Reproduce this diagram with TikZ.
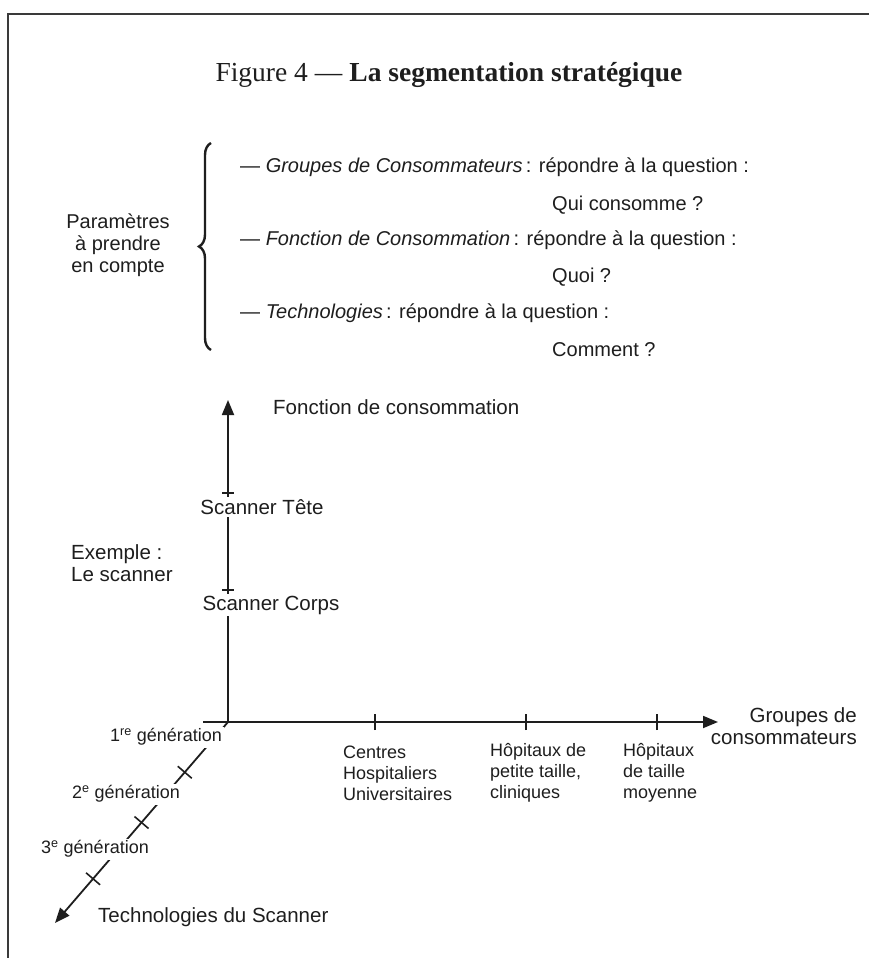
\documentclass[tikz,border=0pt]{standalone}
\usepackage{fontspec}
\setmainfont{Liberation Sans}
\newfontfamily\titlefont{Liberation Serif}
\usetikzlibrary{arrows.meta,decorations.pathreplacing,calc}
\definecolor{ink}{HTML}{1E1E1E}
\definecolor{frameink}{HTML}{3A3A3A}
\tikzset{
  axisline/.style={draw=ink,line width=1.8pt},
  axisarrow/.style={axisline,-{Triangle[length=15pt,width=12pt]}},
  tickmark/.style={draw=ink,line width=1.6pt},
  biglabel/.style={text=ink,font=\fontsize{20.5}{22}\selectfont,inner sep=1pt},
  smalllabel/.style={text=ink,font=\fontsize{18}{21}\selectfont,inner sep=1pt},
  listline/.style={text=ink,font=\fontsize{20}{22}\selectfont,anchor=west,inner sep=0pt},
  gap/.style={fill=white,inner sep=2pt},
}
\begin{document}
\begin{tikzpicture}[x=1pt,y=-1pt]
\useasboundingbox (0,0) rectangle (869,958);
\fill[white] (0,0) rectangle (869,958);

% frame
\draw[frameink,line width=2.6pt] (8,958) -- (8,14) -- (869,14);

% title
\node[text=ink,font=\titlefont\fontsize{27.5}{30}\selectfont] (title) at (449,75)
  {Figure 4 — \textbf{La segmentation stratégique}};

% parameters and brace
\node[text=ink,font=\fontsize{20}{22}\selectfont,align=center] (param) at (118,245)
  {Paramètres\\à prendre\\en compte};
\draw[ink,line width=2.4pt,decorate,decoration={brace,amplitude=12pt,aspect=0.5}]
  (211,350) -- (211,143);

\node[listline] (g1) at (240,167) {— \textit{Groupes de Consommateurs}\,: répondre à la question :};
\node[listline] (a1) at (552,205) {Qui consomme ?};
\node[listline] (g2) at (240,240) {— \textit{Fonction de Consommation}\,: répondre à la question :};
\node[listline] (a2) at (552,277) {Quoi ?};
\node[listline] (g3) at (240,313) {— \textit{Technologies}\,: répondre à la question :};
\node[listline] (a3) at (552,350) {Comment ?};

% axes
\coordinate (O) at (228,722);
\coordinate (Ytop) at (228,400);
\coordinate (Xstart) at (203,722);
\coordinate (Xend) at (718,722);
\coordinate (Ztip) at (55,923);

\draw[axisarrow] (O) -- (Ytop);
\draw[axisarrow] (Xstart) -- (Xend);
\draw[axisarrow] (O) -- (Ztip);

% ticks on the vertical axis
\coordinate (yt1) at (228,493);
\coordinate (yt2) at (228,590);
\draw[tickmark] ([xshift=-6]yt1) -- ([xshift=6]yt1);
\draw[tickmark] ([xshift=-6]yt2) -- ([xshift=6]yt2);

% ticks on the horizontal axis
\foreach \n/\x in {xt1/375,xt2/526,xt3/657}{
  \coordinate (\n) at (\x,722);
  \draw[tickmark,line width=1.3pt] ([yshift=-8]\n) -- ([yshift=8]\n);
}

% crosses on the oblique axis
\foreach \n/\t in {zt1/0.25,zt2/0.5,zt3/0.78}{
  \coordinate (\n) at ($(O)!\t!(Ztip)$);
  \draw[tickmark] ([shift={(7,6)}]\n) -- ([shift={(-7,-6)}]\n);
}

% labels of the vertical axis
\node[biglabel,anchor=west] (fc) at (272,407) {Fonction de consommation};
\node[biglabel,gap] (tete) at (262,507) {Scanner Tête};
\node[biglabel,gap] (corps) at (271,605) {Scanner Corps};
\node[biglabel,anchor=west,align=left] (ex) at (70,563) {Exemple :\\Le scanner};

% labels of the horizontal axis
\node[biglabel,anchor=east,align=right] (gc) at (858,726) {Groupes de\\consommateurs};
\node[smalllabel,anchor=west,align=left] (chu) at (342,773) {Centres\\Hospitaliers\\Universitaires};
\node[smalllabel,anchor=west,align=left] (hp) at (489,773) {Hôpitaux de\\petite taille,\\cliniques};
\node[smalllabel,anchor=west,align=left] (hm) at (622,773) {Hôpitaux\\de taille\\moyenne};

% labels of the oblique axis
\node[smalllabel,gap] (gen1) at (166,737) {1\textsuperscript{re} génération};
\node[smalllabel,gap] (gen2) at (126,794) {2\textsuperscript{e} génération};
\node[smalllabel,gap] (gen3) at (95,849) {3\textsuperscript{e} génération};
\node[biglabel,anchor=west] (tech) at (97,917) {Technologies du Scanner};
\end{tikzpicture}
\end{document}
